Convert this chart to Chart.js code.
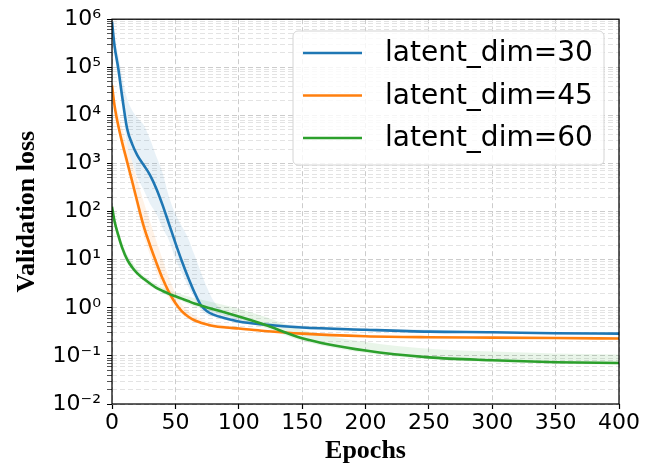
<!DOCTYPE html>
<html>
<head>
<meta charset="utf-8">
<script src="https://cdn.jsdelivr.net/npm/chart.js@4/dist/chart.umd.min.js"></script>
<style>
  html, body { margin: 0; padding: 0; background: #ffffff; }
  #wrap { width: 665px; height: 470px; }
</style>
</head>
<body>
<div id="wrap"><canvas id="loss-chart" width="665" height="470"></canvas></div>
<script>
// data
const epochs = [0, 2, 5, 8, 12, 16, 20, 25, 30, 35, 40, 45, 50, 55, 60, 65, 70, 75, 80, 90, 100, 120, 150, 200, 250, 300, 350, 400];

const seriesLabels = ['latent_dim=30', 'latent_dim=45', 'latent_dim=60'];

const loss30 = [8.9e5, 2.8e5, 9.3e4, 2.5e4, 5.2e3, 2.5e3, 1.48e3, 930, 575, 300, 135, 55, 22.4, 9.5, 4.3, 2.1, 1.15, 0.85, 0.72, 0.60, 0.52, 0.45, 0.39, 0.35, 0.32, 0.31, 0.295, 0.29];
const loss30Upper = [9.5e5, 4.0e5, 1.8e5, 6.3e4, 2.2e4, 1.26e4, 8.9e3, 6.3e3, 3.2e3, 1.4e3, 630, 200, 89, 50, 28, 12.6, 5.6, 2.6, 1.4, 0.79, 0.63, 0.5, 0.43, 0.37, 0.35, 0.32, 0.31, 0.30];
const loss30Lower = [7.9e5, 2.0e5, 5.6e4, 1.4e4, 2.5e3, 1.07e3, 525, 280, 145, 89, 45, 25, 10.5, 5.4, 2.8, 1.62, 0.93, 0.72, 0.65, 0.55, 0.48, 0.42, 0.36, 0.33, 0.31, 0.295, 0.28, 0.275];

const loss45 = [4.2e4, 1.6e4, 6.0e3, 2.75e3, 1.07e3, 417, 158, 50, 20, 8.7, 4.0, 2.1, 1.26, 0.85, 0.66, 0.55, 0.49, 0.45, 0.42, 0.39, 0.37, 0.33, 0.29, 0.257, 0.245, 0.24, 0.235, 0.23];
const loss45Upper = [4.7e4, 2.2e4, 1.07e4, 5.5e3, 2.4e3, 1.05e3, 450, 158, 63, 24.5, 10, 4.2, 2.0, 1.2, 0.87, 0.69, 0.59, 0.51, 0.47, 0.43, 0.40, 0.355, 0.31, 0.27, 0.257, 0.25, 0.245, 0.24];
const loss45Lower = [3.7e4, 1.26e4, 4.8e3, 1.95e3, 760, 295, 112, 32, 12.6, 5.5, 2.8, 1.58, 1.05, 0.74, 0.59, 0.5, 0.457, 0.417, 0.39, 0.363, 0.347, 0.316, 0.275, 0.245, 0.234, 0.229, 0.224, 0.219];

const loss60 = [126, 63, 32, 17.8, 10, 6.9, 5.2, 4.0, 3.2, 2.6, 2.24, 1.95, 1.74, 1.55, 1.38, 1.23, 1.12, 1.02, 0.93, 0.79, 0.66, 0.45, 0.234, 0.129, 0.093, 0.081, 0.074, 0.071];
const loss60Upper = [135, 76, 40, 22.4, 12.6, 8.7, 6.3, 4.7, 3.7, 3.1, 2.63, 2.34, 2.09, 1.9, 1.74, 1.58, 1.48, 1.38, 1.29, 1.12, 0.955, 0.66, 0.347, 0.195, 0.141, 0.123, 0.112, 0.107];
const loss60Lower = [117, 52, 25, 14.1, 8.3, 6.0, 4.7, 3.55, 2.8, 2.34, 2.0, 1.74, 1.55, 1.38, 1.2, 1.07, 0.977, 0.89, 0.81, 0.69, 0.575, 0.39, 0.204, 0.115, 0.085, 0.074, 0.069, 0.066];

const xTicks = [0, 50, 100, 150, 200, 250, 300, 350, 400];
const yDecades = [-2, -1, 0, 1, 2, 3, 4, 5, 6];

const colors = ['#1f77b4', '#ff7f0e', '#2ca02c'];
const bandColors = ['rgba(31,119,180,0.1)', 'rgba(255,127,14,0.1)', 'rgba(44,160,44,0.1)'];

// log ticks: 1..9 x 10^n, like matplotlib minor ticks
const yTickValues = [];
yDecades.forEach(function(e) {
    const top = e === yDecades[yDecades.length - 1] ? 1 : 9;
    for (let m = 1; m <= top; m++) yTickValues.push(Number((m * Math.pow(10, e)).toPrecision(3)));
});

function toPoints(values) {
    return epochs.map(function(x, i) { return { x: x, y: values[i] }; });
}

function isDecade(v) {
    const e = Math.log10(v);
    return Math.abs(e - Math.round(e)) < 1e-6;
}

const supDigits = { '-': '\u207B', '0': '\u2070', '1': '\u00B9', '2': '\u00B2', '3': '\u00B3', '4': '\u2074', '5': '\u2075', '6': '\u2076', '7': '\u2077', '8': '\u2078', '9': '\u2079' };
function powerLabel(v) {
    const e = String(Math.round(Math.log10(v)));
    return '10' + e.split('').map(function(c) { return supDigits[c]; }).join('');
}

function lineSet(label, values, color, order) {
    return {
        label: label,
        data: toPoints(values),
        borderColor: color,
        borderWidth: 2.6,
        pointRadius: 0,
        fill: false,
        cubicInterpolationMode: 'monotone',
        order: order
    };
}

function bandSet(values, fillTarget, color, order) {
    return {
        label: '',
        data: toPoints(values),
        borderWidth: 0,
        borderColor: 'rgba(0,0,0,0)',
        backgroundColor: color,
        pointRadius: 0,
        fill: fillTarget === null ? false : fillTarget,
        cubicInterpolationMode: 'monotone',
        order: order
    };
}

// frame around the plot + legend box inside, top right
const framePlugin = {
    id: 'frame',
    afterDatasetsDraw: function(chart) {
        const ctx = chart.ctx;
        const a = chart.chartArea;
        ctx.save();
        ctx.strokeStyle = '#000000';
        ctx.lineWidth = 1.25;
        ctx.strokeRect(a.left, a.top, a.right - a.left, a.bottom - a.top);

        // legend
        const bx = 293, by = 31, bw = 311, bh = 134;
        ctx.beginPath();
        ctx.roundRect(bx, by, bw, bh, 5);
        ctx.fillStyle = 'rgba(255,255,255,0.8)';
        ctx.fill();
        ctx.strokeStyle = '#d4d4d4';
        ctx.lineWidth = 1;
        ctx.stroke();

        ctx.font = '28px "DejaVu Sans"';
        ctx.textBaseline = 'middle';
        ctx.textAlign = 'left';
        seriesLabels.forEach(function(label, i) {
            const y = 53 + i * 42.5;
            ctx.beginPath();
            ctx.moveTo(303, y);
            ctx.lineTo(362, y);
            ctx.strokeStyle = colors[i];
            ctx.lineWidth = 2.6;
            ctx.stroke();
            ctx.fillStyle = '#000000';
            ctx.fillText(label, 385, y + 1);
        });
        ctx.restore();
    }
};

const ctx = document.getElementById('loss-chart').getContext('2d');
const lossChart = new Chart(ctx, {
    type: 'line',
    data: {
        datasets: [
            lineSet(seriesLabels[0], loss30, colors[0], 2),
            lineSet(seriesLabels[1], loss45, colors[1], 1),
            lineSet(seriesLabels[2], loss60, colors[2], 0),
            bandSet(loss30Upper, 4, bandColors[0], 3),
            bandSet(loss30Lower, null, bandColors[0], 4),
            bandSet(loss45Upper, 6, bandColors[1], 5),
            bandSet(loss45Lower, null, bandColors[1], 6),
            bandSet(loss60Upper, 8, bandColors[2], 7),
            bandSet(loss60Lower, null, bandColors[2], 8)
        ]
    },
    options: {
        responsive: false,
        animation: false,
        events: [],
        layout: { padding: { left: 0, right: 46, top: 16, bottom: 0 } },
        plugins: {
            legend: { display: false },
            tooltip: { enabled: false }
        },
        scales: {
            x: {
                type: 'linear',
                min: 0,
                max: 400,
                afterBuildTicks: function(scale) {
                    scale.ticks = xTicks.map(function(v) { return { value: v }; });
                },
                afterFit: function(scale) { scale.height = 66; },
                ticks: {
                    autoSkip: false,
                    maxRotation: 0,
                    padding: 1,
                    color: '#000000',
                    font: { family: 'DejaVu Sans', size: 22 }
                },
                grid: {
                    color: '#cccccc',
                    lineWidth: 1,
                    tickLength: 5,
                    tickColor: '#000000',
                    tickWidth: 1.2
                },
                border: { display: false, dash: [5, 3] },
                title: {
                    display: true,
                    text: 'Epochs',
                    color: '#000000',
                    font: { family: 'Liberation Serif', size: 26, weight: 'bold' },
                    padding: { top: 0, bottom: 3 }
                }
            },
            y: {
                type: 'logarithmic',
                min: 0.01,
                max: 1e6,
                afterBuildTicks: function(scale) {
                    scale.ticks = yTickValues.map(function(v) { return { value: v, major: isDecade(v) }; });
                },
                afterFit: function(scale) { scale.width = 112; },
                ticks: {
                    autoSkip: false,
                    padding: 6,
                    color: '#000000',
                    font: { family: 'DejaVu Sans', size: 22 },
                    callback: function(value) {
                        return isDecade(value) ? powerLabel(value) : '';
                    }
                },
                grid: {
                    color: function(c) {
                        return c.tick && isDecade(c.tick.value) ? '#cccccc' : '#e3e3e3';
                    },
                    lineWidth: 1,
                    tickLength: 5,
                    tickColor: function(c) {
                        return c.tick && isDecade(c.tick.value) ? '#000000' : '#555555';
                    },
                    tickWidth: 1
                },
                border: { display: false, dash: [5, 3] },
                title: {
                    display: true,
                    text: 'Validation loss',
                    color: '#000000',
                    font: { family: 'Liberation Serif', size: 26, weight: 'bold' },
                    padding: { top: 12, bottom: 0 }
                }
            }
        }
    },
    plugins: [framePlugin]
});
</script>
</body>
</html>
